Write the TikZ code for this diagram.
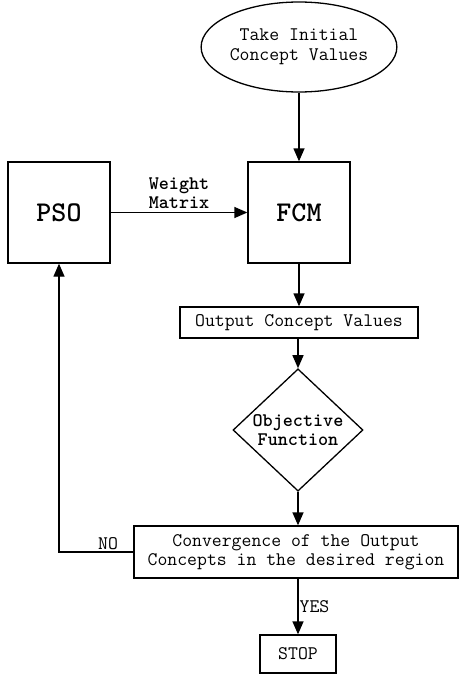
\documentclass[tikz,border=0pt]{standalone}
\usepackage{fontspec}
\usetikzlibrary{shapes.geometric,arrows.meta}
\begin{document}
\begin{tikzpicture}[x=1pt,y=-1pt,
  every node/.style={font=\ttfamily\fontsize{19.2}{19.5}\selectfont, align=center},
  line/.style={line width=1.3pt},
  arr/.style={line, -{Triangle[length=13pt,width=11pt]}},
  box/.style={draw, line width=1.3pt, rectangle, inner sep=0pt},
  bigbox/.style={box, minimum width=102pt, minimum height=101pt,
                 font=\ttfamily\fontsize{28.6}{28}\selectfont\bfseries},
  oval/.style={draw, line width=1.3pt, ellipse, inner sep=0pt,
               minimum width=172pt, minimum height=90pt},
  decision/.style={draw, line width=1.3pt, diamond, inner sep=0pt,
                   minimum width=130pt, minimum height=98pt,
                   font=\ttfamily\fontsize{19.2}{19.5}\selectfont\bfseries},
  lbl/.style={inner sep=2pt}
]
\useasboundingbox (0,0) rectangle (460,677);

% blocks
\node[oval] (init) at (299,47) {Take Initial\\Concept Values};
\node[bigbox] (pso) at (59,212.5) {PSO};
\node[bigbox] (fcm) at (299,212.5) {FCM};
\node[box, minimum width=238pt, minimum height=31pt] (out) at (299,322.5) {Output Concept Values};
\node[decision] (obj) at (298,430) {Objective\\Function};
\node[box, minimum width=324pt, minimum height=52pt] (conv) at (296,552) {Convergence of the Output\\Concepts in the desired region};
\node[box, minimum width=76pt, minimum height=38pt] (stop) at (298,654) {STOP};

% connectors
\draw[arr] (init.south -| fcm) -- (fcm.north);
\draw[arr] (pso.east) -- node[above, lbl, inner sep=3pt, font=\ttfamily\fontsize{19.2}{19.5}\selectfont\bfseries] {Weight\\Matrix} (fcm.west);
\draw[arr] (fcm.south) -- (out.north -| fcm);
\draw[arr] (out.south -| obj.north) -- (obj.north);
\draw[arr] (obj.south) -- (obj.south |- conv.north);
\draw[arr] (conv.west) -| node[pos=0.17, above, lbl] {NO} (pso.south);
\draw[arr] (conv.south -| obj.south) -- node[right, lbl, inner sep=1pt] {YES} (stop.north -| obj.south);
\end{tikzpicture}
\end{document}
